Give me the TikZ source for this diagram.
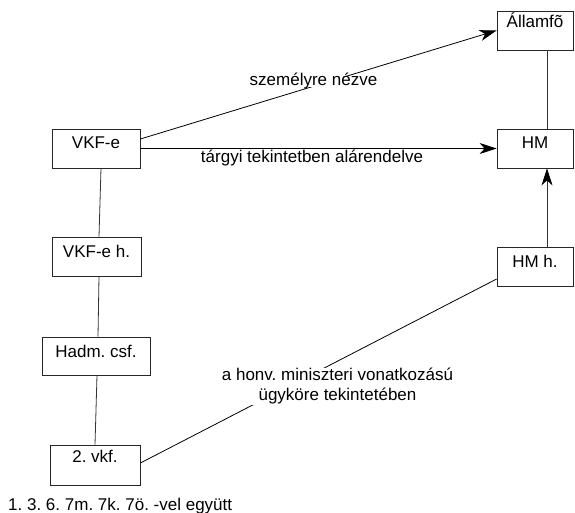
\documentclass[tikz,border=0pt]{standalone}
\usepackage{fontspec}
\setmainfont{Liberation Sans}
\usetikzlibrary{arrows.meta}
\frenchspacing
\begin{document}
\begin{tikzpicture}[x=1pt,y=-1pt,
  box/.style={draw=black!85, line width=0.8pt, minimum height=39pt, inner sep=0pt,
    text height=12pt, text depth=11pt, font=\fontsize{17}{20}\selectfont},
  link/.style={draw=black!80, line width=0.8pt},
  rel/.style={draw=black, line width=0.8pt},
  tip/.style={-{Stealth[length=17pt,width=11pt,inset=5pt,fill=black,color=black]}},
  lbl/.style={font=\fontsize{17}{20}\selectfont, inner sep=0pt}]
\useasboundingbox (0,0) rectangle (575,513);

% organisation boxes
\node[box, minimum width=76pt, text depth=17pt] (allam) at (535,30.5) {Államfõ};
\node[box, minimum width=76pt] (hm) at (535,148.5) {HM};
\node[box, minimum width=76pt] (hmh) at (535,266.5) {HM h.};
\node[box, minimum width=88pt] (vkfe) at (96,148.5) {VKF-e};
\node[box, minimum width=89pt] (vkfeh) at (96.5,256.5) {VKF-e h.};
\node[box, minimum width=108pt, minimum height=38pt, text depth=10pt] (hadm) at (96,356) {Hadm. csf.};
\node[box, minimum width=90pt, minimum height=40pt, text depth=18pt] (vkf2) at (95,465) {2. vkf.};

% chain of command
\draw[link] ([xshift=12pt]allam.south) -- ([xshift=12pt]hm.north);
\draw[link,tip] ([xshift=12pt]hmh.north) -- ([xshift=12pt]hm.south);
\draw[link] ([xshift=5pt]vkfe.south) -- ([xshift=2.5pt]vkfeh.north);
\draw[link] ([xshift=2.5pt]vkfeh.south) -- ([xshift=2pt]hadm.north);
\draw[link] ([xshift=1pt]hadm.south) -- (vkf2.north);

% relations
\draw[rel,tip] ([yshift=9.5pt]vkfe.east) -- (allam.west);
\draw[rel,tip] (vkfe.east) -- (hm.west);
\draw[rel] ([yshift=2pt]vkf2.east) -- ([yshift=-12.5pt]hmh.west);

% relation labels
\node[lbl, fill=white, text height=9pt, text depth=1pt, anchor=base] (personal) at (313.5,86) {személyre nézve};
\node[lbl, anchor=base] (factual) at (312,163) {tárgyi tekintetben alárendelve};
\node[lbl, fill=white, align=center] (scope) at (337.5,386.5) {a honv. miniszteri vonatkozású\\ügyköre tekintetében};
\node[lbl, anchor=base west] (note) at (8,510) {1. 3. 6. 7m. 7k. 7ö. -vel együtt};
\end{tikzpicture}
\end{document}
